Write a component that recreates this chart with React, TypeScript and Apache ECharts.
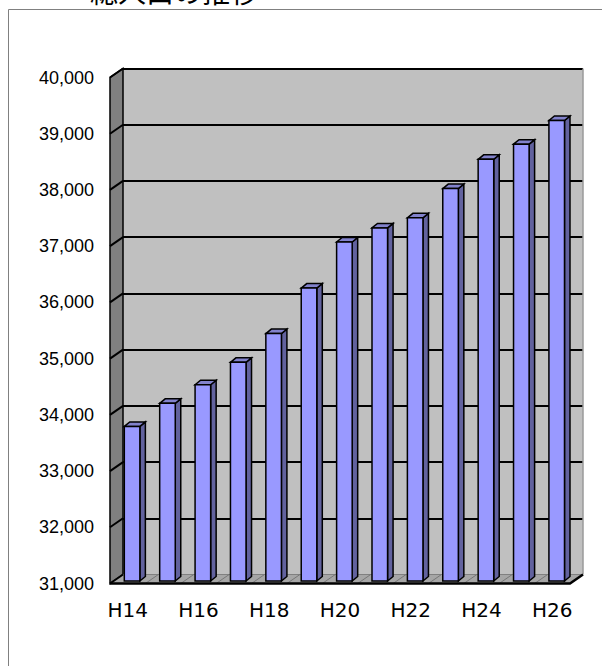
import React, { useEffect, useRef } from 'react';
import * as echarts from 'echarts';

const categories = ['H14', 'H15', 'H16', 'H17', 'H18', 'H19', 'H20', 'H21', 'H22', 'H23', 'H24', 'H25', 'H26'];
const population = [33750, 34160, 34490, 34890, 35400, 36210, 37030, 37280, 37460, 37980, 38500, 38770, 39190];
const yMin = 31000;
const yMax = 40000;
const yStep = 1000;
const yTicks = [31000, 32000, 33000, 34000, 35000, 36000, 37000, 38000, 39000, 40000];
const title = '総人口の推移';

export default function App() {
  const ref = useRef<HTMLDivElement>(null);
  useEffect(() => {
    const chart = echarts.init(ref.current!, null, { renderer: 'svg' });
    const DX = 13;
    const DY = -9;

    const frameRender = (params: any, api: any) => {
      const cs = params.coordSys;
      const x = cs.x, y = cs.y, w = cs.width, h = cs.height;
      const by = y + h;
      const children: any[] = [];
      children.push({
        type: 'polygon',
        shape: { points: [[x, by], [x, y], [x + DX, y + DY], [x + DX, by + DY]] },
        style: { fill: '#808080', stroke: '#000', lineWidth: 1.5 },
      });
      children.push({
        type: 'polygon',
        shape: { points: [[x, by], [x + w, by], [x + w + DX, by + DY], [x + DX, by + DY]] },
        style: { fill: '#a6a6a6', stroke: '#808080', lineWidth: 1 },
      });
      const n = categories.length;
      for (let k = 1; k < n; k++) {
        const xk = x + (k * w) / n;
        children.push({
          type: 'line',
          shape: { x1: xk, y1: by, x2: xk + DX, y2: by + DY },
          style: { stroke: '#777', lineWidth: 1 },
        });
      }
      yTicks.forEach((v) => {
        const yv = api.coord([0, v])[1];
        children.push({
          type: 'line',
          shape: { x1: x, y1: yv, x2: x + DX, y2: yv + DY },
          style: { stroke: '#000', lineWidth: 2 },
        });
      });
      children.push({
        type: 'line',
        shape: { x1: x + w + DX, y1: y + DY, x2: x + w + DX, y2: by + DY },
        style: { stroke: '#9a9a9a', lineWidth: 1.5 },
      });
      children.push({
        type: 'polyline',
        shape: { points: [[x, by], [x + w, by], [x + w + DX, by + DY]] },
        style: { stroke: '#000', lineWidth: 2.5, fill: 'none' },
      });
      return { type: 'group', children };
    };

    const barRender = (params: any, api: any) => {
      const i = api.value(0);
      const v = api.value(1);
      const top = api.coord([i, v]);
      const base = api.coord([i, yMin]);
      const bw = api.size([1, 0])[0] * 0.44;
      const fx = 4.4;
      const fy = -2.5;
      const x0 = top[0] - bw / 2 + fx;
      const x1 = x0 + bw;
      const yt = top[1] + fy;
      const yb = base[1] + fy;
      const ddx = 5.5;
      const ddy = -4.5;
      return {
        type: 'group',
        children: [
          {
            type: 'polygon',
            shape: { points: [[x1, yt], [x1 + ddx, yt + ddy], [x1 + ddx, yb + ddy], [x1, yb]] },
            style: { fill: '#62629e', stroke: '#000', lineWidth: 1.5 },
          },
          {
            type: 'polygon',
            shape: { points: [[x0, yt], [x0 + ddx, yt + ddy], [x1 + ddx, yt + ddy], [x1, yt]] },
            style: { fill: '#8282cc', stroke: '#000', lineWidth: 1.5 },
          },
          {
            type: 'rect',
            shape: { x: x0, y: yt, width: bw, height: yb - yt },
            style: { fill: '#9999ff', stroke: '#000', lineWidth: 1.5 },
          },
        ],
      };
    };

    chart.setOption({
      animation: false,
      backgroundColor: '#ffffff',
      graphic: [
        {
          type: 'rect',
          shape: { x: 8.5, y: 9.5, width: 800, height: 800 },
          style: { fill: 'none', stroke: '#808080', lineWidth: 1 },
          silent: true,
        },
        {
          type: 'text',
          left: 90,
          top: -23,
          style: {
            text: title,
            fontSize: 28,
            fontFamily: 'Noto Sans CJK JP',
            fill: '#000',
          },
        },
      ],
      grid: [
        { left: 123, top: 68.5, width: 460, height: 506, show: true, backgroundColor: '#c0c0c0', borderWidth: 0 },
        { left: 110, top: 77.5, width: 460, height: 506 },
      ],
      xAxis: [
        { gridIndex: 0, type: 'category', data: categories, show: false },
        {
          gridIndex: 1,
          type: 'category',
          data: categories,
          axisLine: { show: false },
          axisTick: { show: false },
          axisLabel: { interval: 1, fontSize: 20, fontFamily: 'DejaVu Sans', color: '#000', margin: 16 },
        },
      ],
      yAxis: [
        {
          gridIndex: 0,
          type: 'value',
          min: yMin,
          max: yMax,
          interval: yStep,
          axisLabel: { show: false },
          axisLine: { show: false },
          axisTick: { show: false },
          splitLine: { show: true, lineStyle: { color: '#000', width: 2 } },
        },
        {
          gridIndex: 1,
          type: 'value',
          min: yMin,
          max: yMax,
          interval: yStep,
          axisLine: { show: false },
          axisTick: { show: false },
          splitLine: { show: false },
          axisLabel: {
            fontSize: 18,
            fontFamily: 'Liberation Sans',
            color: '#000',
            margin: 16,
            formatter: (v: number) => v.toLocaleString('en-US'),
          },
        },
      ],
      series: [
        {
          type: 'custom',
          xAxisIndex: 1,
          yAxisIndex: 1,
          clip: false,
          silent: true,
          data: [[0, yMin]],
          renderItem: frameRender,
          z: 1,
        },
        {
          type: 'custom',
          name: '総人口',
          xAxisIndex: 1,
          yAxisIndex: 1,
          clip: false,
          data: population.map((v, i) => [i, v]),
          renderItem: barRender,
          z: 2,
        },
      ],
    });
    return () => chart.dispose();
  }, []);
  return (
    <div
      ref={ref}
      style={{ position: 'absolute', left: 0, top: 0, width: 602, height: 666, background: '#fff' }}
    />
  );
}
